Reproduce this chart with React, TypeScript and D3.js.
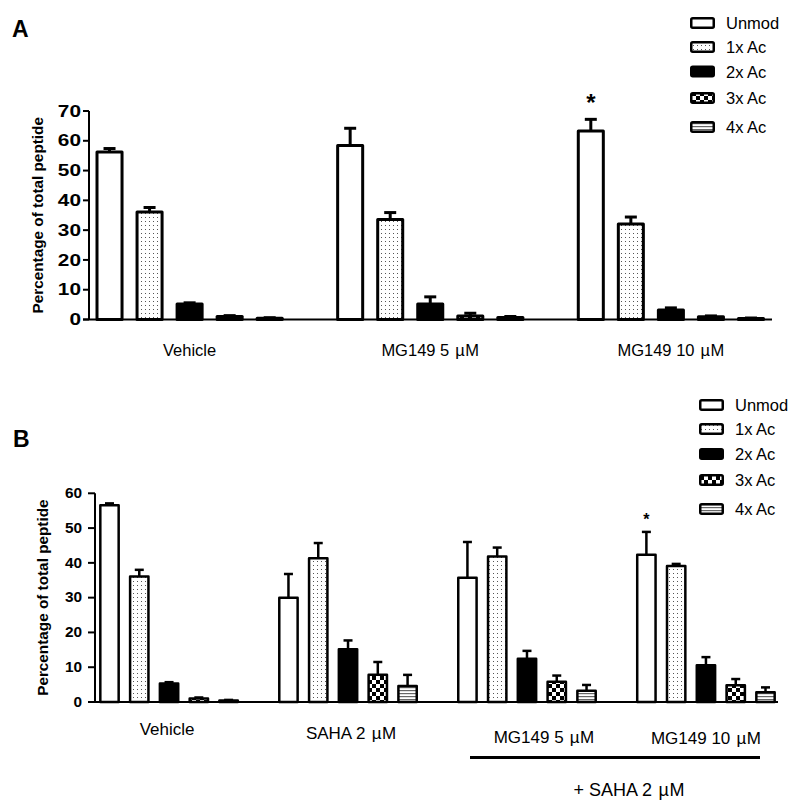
import React from 'react';
import * as d3 from 'd3';

const FONT = '"Liberation Sans", Arial, Helvetica, sans-serif';

const seriesNames = ['Unmod', '1x Ac', '2x Ac', '3x Ac', '4x Ac'];

// Panel A
const groupsA = ['Vehicle', 'MG149 5 \u00b5M', 'MG149 10 \u00b5M'];
const aUnmod = [56.2, 58.4, 63.3];
const a1x = [36.1, 33.6, 32.1];
const a2x = [5.2, 5.2, 3.2];
const a3x = [1.0, 1.2, 0.9];
const a4x = [0.4, 0.7, 0.3];
const aUnmodErr = [1.2, 5.8, 3.9];
const a1xErr = [1.5, 2.3, 2.3];
const a2xErr = [0.4, 2.4, 0.7];
const a3xErr = [0.3, 0.9, 0.3];
const a4xErr = [0.2, 0.3, 0.2];
const ticksA = [0, 10, 20, 30, 40, 50, 60, 70];

// Panel B
const groupsB = ['Vehicle', 'SAHA 2 \u00b5M', 'MG149 5 \u00b5M', 'MG149 10 \u00b5M'];
const bUnmod = [56.6, 30.0, 35.7, 42.3];
const b1x = [36.1, 41.3, 41.8, 39.1];
const b2x = [5.3, 15.2, 12.4, 10.6];
const b3x = [1.0, 7.8, 5.8, 4.8];
const b4x = [0.4, 4.6, 3.2, 2.8];
const bUnmodErr = [0.5, 6.8, 10.3, 6.6];
const b1xErr = [1.9, 4.4, 2.6, 0.6];
const b2xErr = [0.4, 2.5, 2.3, 2.3];
const b3xErr = [0.3, 3.7, 1.8, 1.8];
const b4xErr = [0.2, 3.2, 1.7, 1.4];
const ticksB = [0, 10, 20, 30, 40, 50, 60];

const fills = ['#fff', 'url(#dots)', '#000', 'url(#checks)', 'url(#stripes)'];

// label text with slightly spaced micro sign, as in the original figure
function MicroLabel({ text }: { text: string }) {
  const parts = text.split('\u00b5');
  if (parts.length < 2) return <>{text}</>;
  return (
    <>
      {parts[0]}
      <tspan dx={1.5}>{'\u00b5'}</tspan>
      <tspan dx={0.5}>{parts[1]}</tspan>
    </>
  );
}

type PanelProps = {
  groups: string[];
  means: number[][];
  errs: number[][];
  ticks: number[];
  yTop: number;
  yBottom: number;
  xStart: number;
  xEnd: number;
  axisX: number;
  tickLen: number;
  axisEnd: number;
  strokeW: number;
  capW: number;
  tickFont: number;
  tickScaleX: number;
  tickLabelX: number;
  yLabelX: number;
  labelFont: number;
  labelY: number[];
  labelDx: number[];
  legendX: number;
  legendY: number[];
  star: { group: number; dy: number; size: number };
};

function Panel(p: PanelProps) {
  const maxT = p.ticks[p.ticks.length - 1];
  const y = d3.scaleLinear().domain([0, maxT]).range([p.yBottom, p.yTop]);
  const x0 = d3.scaleBand<string>().domain(p.groups).range([p.xStart, p.xEnd]).paddingInner(0.168).paddingOuter(0);
  const x1 = d3.scaleBand<string>().domain(seriesNames).range([0, x0.bandwidth()]).paddingInner(0.3).paddingOuter(0.15);
  const sw = p.strokeW;
  const bw = x1.bandwidth();
  return (
    <g>
      {p.means.map((ser, si) =>
        ser.map((v, gi) => {
          const bx = (x0(p.groups[gi]) as number) + (x1(seriesNames[si]) as number);
          const top = y(v);
          const e = p.errs[si][gi];
          const ey = y(v + e);
          const cx = bx + bw / 2;
          return (
            <g key={`${si}-${gi}`}>
              <line x1={cx} x2={cx} y1={top} y2={ey} stroke="#000" strokeWidth={sw} />
              <line x1={cx - p.capW / 2} x2={cx + p.capW / 2} y1={ey} y2={ey} stroke="#000" strokeWidth={sw} />
              <rect
                x={bx + sw / 2}
                y={top}
                width={bw - sw}
                height={Math.max(0, y(0) - top)}
                fill={fills[si]}
                stroke="#000"
                strokeWidth={sw}
                strokeLinejoin="round"
              />
            </g>
          );
        })
      )}
      {/* axes */}
      <line x1={p.axisX} x2={p.axisX} y1={y(0)} y2={y(maxT)} stroke="#000" strokeWidth={2} />
      <line x1={p.axisX - p.tickLen} x2={p.axisEnd} y1={y(0)} y2={y(0)} stroke="#000" strokeWidth={2} />
      {p.ticks.map((t) => (
        <g key={t}>
          <line x1={p.axisX - p.tickLen} x2={p.axisX} y1={y(t)} y2={y(t)} stroke="#000" strokeWidth={2} />
          <text
            transform={`translate(${p.tickLabelX},${y(t)}) scale(${p.tickScaleX},1)`}
            textAnchor="end"
            dominantBaseline="central"
            fontFamily={FONT}
            fontWeight="bold"
            fontSize={p.tickFont}
          >
            {t}
          </text>
        </g>
      ))}
      <text
        transform={`translate(${p.yLabelX},${(y(0) + y(maxT)) / 2}) rotate(-90)`}
        textAnchor="middle"
        dominantBaseline="central"
        fontFamily={FONT}
        fontWeight="bold"
        fontSize={15.3}
      >
        Percentage of total peptide
      </text>
      {/* group labels */}
      {p.groups.map((g, gi) => (
        <text
          key={g}
          x={(x0(g) as number) + x0.bandwidth() / 2 + p.labelDx[gi]}
          y={p.labelY[gi]}
          textAnchor="middle"
          dominantBaseline="central"
          fontFamily={FONT}
          fontSize={p.labelFont}
        >
          <MicroLabel text={g} />
        </text>
      ))}
      {/* star */}
      {(() => {
        const gi = p.star.group;
        const bx = (x0(p.groups[gi]) as number) + (x1(seriesNames[0]) as number);
        const v = p.means[0][gi] + p.errs[0][gi];
        return (
          <text
            x={bx + bw / 2}
            y={y(v) + p.star.dy}
            textAnchor="middle"
            fontFamily={FONT}
            fontWeight="bold"
            fontSize={p.star.size}
          >
            *
          </text>
        );
      })()}
      {/* legend */}
      {seriesNames.map((s, si) => (
        <g key={s}>
          <rect
            x={p.legendX + 1.25}
            y={p.legendY[si] - 4.75}
            width={22.5}
            height={9.5}
            rx={1.5}
            fill={fills[si]}
            stroke="#000"
            strokeWidth={2.5}
          />
          <text
            x={p.legendX + 36}
            y={p.legendY[si]}
            dominantBaseline="central"
            fontFamily={FONT}
            fontSize={16.5}
          >
            {s}
          </text>
        </g>
      ))}
    </g>
  );
}

export default function App() {
  return (
    <svg
      width={800}
      height={812}
      style={{ position: 'absolute', left: 0, top: 0, background: '#fff' }}
      xmlns="http://www.w3.org/2000/svg"
    >
      <defs>
        <pattern id="dots" width={4} height={4} patternUnits="userSpaceOnUse">
          <rect width={4} height={4} fill="#fff" />
          <rect x={1} y={1} width={1} height={1} fill="#555" />
        </pattern>
        <pattern id="checks" width={8} height={8} patternUnits="userSpaceOnUse">
          <rect width={8} height={8} fill="#fff" />
          <rect x={0} y={0} width={4} height={4} fill="#000" />
          <rect x={4} y={4} width={4} height={4} fill="#000" />
        </pattern>
        <pattern id="stripes" width={4} height={3} patternUnits="userSpaceOnUse">
          <rect width={4} height={3} fill="#fff" />
          <rect x={0} y={0} width={4} height={1.2} fill="#666" />
        </pattern>
      </defs>
      <rect width={800} height={812} fill="#fff" />
      <text x={12} y={37} fontFamily={FONT} fontWeight="bold" fontSize={23}>A</text>
      <text x={13} y={447} fontFamily={FONT} fontWeight="bold" fontSize={23}>B</text>
      <Panel
        groups={groupsA}
        means={[aUnmod, a1x, a2x, a3x, a4x]}
        errs={[aUnmodErr, a1xErr, a2xErr, a3xErr, a4xErr]}
        ticks={ticksA}
        yTop={111}
        yBottom={319.5}
        xStart={89.5}
        xEnd={771}
        axisX={89}
        tickLen={6}
        axisEnd={772}
        strokeW={3}
        capW={12}
        tickFont={16}
        tickScaleX={1.3}
        tickLabelX={81}
        yLabelX={37}
        labelFont={16.5}
        labelY={[350, 350, 350]}
        labelDx={[0, 0, 0]}
        legendX={690}
        legendY={[23, 47, 71.5, 98, 127]}
        star={{ group: 2, dy: -8, size: 24 }}
      />
      <Panel
        groups={groupsB}
        means={[bUnmod, b1x, b2x, b3x, b4x]}
        errs={[bUnmodErr, b1xErr, b2xErr, b3xErr, b4xErr]}
        ticks={ticksB}
        yTop={493.3}
        yBottom={702}
        xStart={94.6}
        xEnd={780.4}
        axisX={95}
        tickLen={7}
        axisEnd={778}
        strokeW={2.5}
        capW={9}
        tickFont={14}
        tickScaleX={1.1}
        tickLabelX={82}
        yLabelX={42}
        labelFont={17}
        labelY={[729, 733, 737, 738]}
        labelDx={[-2, 3, 17, 0]}
        legendX={699}
        legendY={[405, 429, 454, 480, 509]}
        star={{ group: 3, dy: -7, size: 16 }}
      />
      <line x1={470} x2={760} y1={757.5} y2={757.5} stroke="#000" strokeWidth={3} />
      <text x={629} y={790} textAnchor="middle" dominantBaseline="central" fontFamily={FONT} fontSize={18}>
        <MicroLabel text={'+ SAHA 2 \u00b5M'} />
      </text>
    </svg>
  );
}
